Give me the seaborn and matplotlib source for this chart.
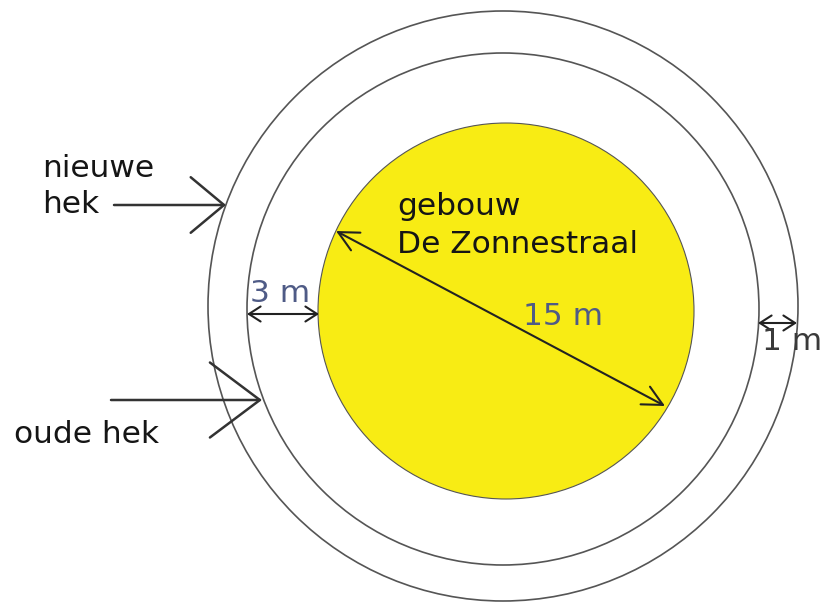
import matplotlib
matplotlib.use("Agg")
import matplotlib.pyplot as plt
from matplotlib.patches import Circle
import seaborn as sns

# values (drawing units = pixels of the picture)
ring_names = ["gebouw", "oude hek", "nieuwe hek"]
ring_radius = [188, 256, 295]
ring_cx = [506, 503, 503]
ring_cy = [311, 309, 306]

dim_labels = ["15 m", "3 m", "1 m"]

sns.set_theme(style="white")
plt.rcParams["font.family"] = ["DejaVu Sans"]

fig = plt.figure(figsize=(8.29, 6.02), dpi=100)
ax = fig.add_axes([0, 0, 1, 1])
ax.set_xlim(0, 829)
ax.set_ylim(602, 0)
ax.set_axis_off()

# building (yellow) and the two fences
ax.add_patch(Circle((ring_cx[0], ring_cy[0]), ring_radius[0], facecolor="#f8ec14",
                    edgecolor="#555555", lw=0.8, zorder=1))
for i in [1, 2]:
    ax.add_patch(Circle((ring_cx[i], ring_cy[i]), ring_radius[i], fill=False,
                        edgecolor="#555555", lw=1.2, zorder=1))

txt = "#151515"
dim = "#4f5b86"
fs = 22.5

ax.text(397, 215, "gebouw", fontsize=fs, color=txt, ha="left", va="baseline")
ax.text(397, 253, "De Zonnestraal", fontsize=fs, color=txt, ha="left", va="baseline")
ax.text(42, 177, "nieuwe", fontsize=fs, color=txt, ha="left", va="baseline")
ax.text(42, 213, "hek", fontsize=fs, color=txt, ha="left", va="baseline")
ax.text(14, 443, "oude hek", fontsize=fs, color=txt, ha="left", va="baseline")

# pointer arrows to the fences
ax.annotate("", xy=(226, 205), xytext=(114, 205),
            arrowprops=dict(arrowstyle="->,head_length=1.2,head_width=1.0",
                            mutation_scale=20, color="#333333", lw=1.8,
                            shrinkA=0, shrinkB=0))
ax.annotate("", xy=(262, 400), xytext=(111, 400),
            arrowprops=dict(arrowstyle="->,head_length=1.8,head_width=1.35",
                            mutation_scale=20, color="#333333", lw=1.8,
                            shrinkA=0, shrinkB=0))

# diameter
ax.annotate("", xy=(665, 406), xytext=(336, 231),
            arrowprops=dict(arrowstyle="<->,head_length=1.2,head_width=0.6",
                            mutation_scale=12, color="#222222", lw=1.5,
                            shrinkA=0, shrinkB=0))
ax.text(523, 325, dim_labels[0], fontsize=fs, color=dim, ha="left", va="baseline")

# 3 m gap
ax.annotate("", xy=(319, 314), xytext=(247, 314),
            arrowprops=dict(arrowstyle="<->,head_length=0.7,head_width=0.45",
                            mutation_scale=12, color="#222222", lw=1.5,
                            shrinkA=0, shrinkB=0))
ax.text(250, 302, dim_labels[1], fontsize=fs, color=dim, ha="left", va="baseline")

# 1 m gap
ax.annotate("", xy=(797, 323), xytext=(758, 323),
            arrowprops=dict(arrowstyle="<->,head_length=0.7,head_width=0.45",
                            mutation_scale=12, color="#222222", lw=1.5,
                            shrinkA=0, shrinkB=0))
ax.text(762, 350, dim_labels[2], fontsize=fs, color="#3a3a3a", ha="left", va="baseline")

fig.savefig("out.png", dpi=100, facecolor="white")
